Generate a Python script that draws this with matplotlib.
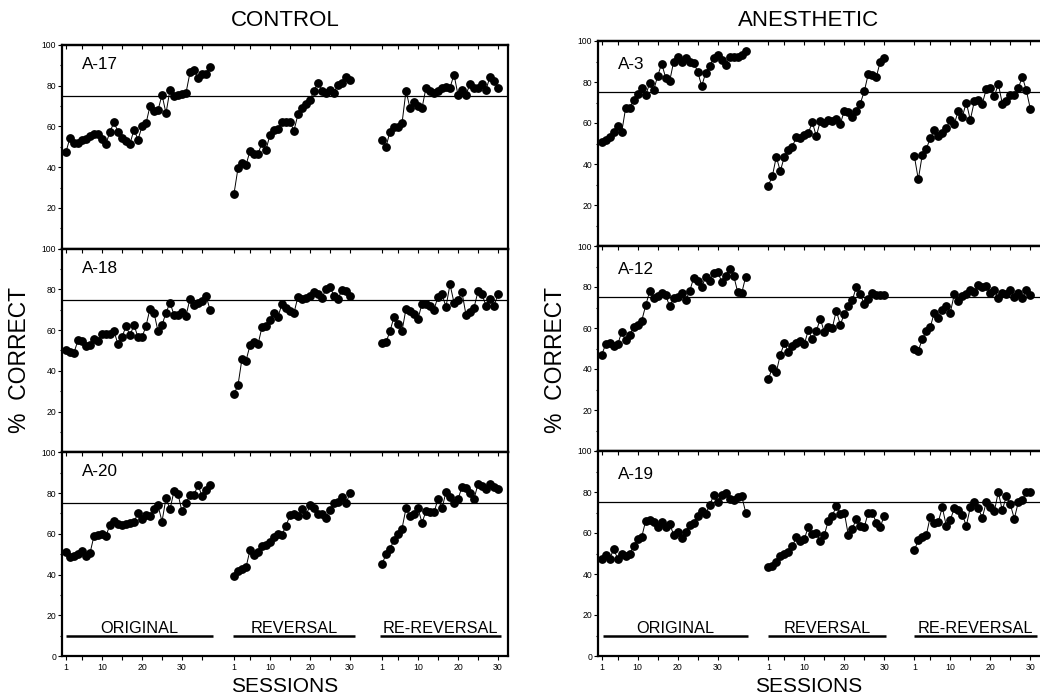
import matplotlib
matplotlib.use("Agg")
import matplotlib.pyplot as plt

plt.rcParams['font.family'] = ['Liberation Sans', 'DejaVu Sans']

# ---------------- data ----------------
group_titles = ["CONTROL", "ANESTHETIC"]
control_animals = ["A-17", "A-18", "A-20"]
anesthetic_animals = ["A-3", "A-12", "A-19"]
phase_names = ["ORIGINAL", "REVERSAL", "RE-REVERSAL"]
tick_sessions = [1, 5, 10, 15, 20, 25, 30, 35]
labelled_sessions = [1, 10, 20, 30]
criterion = 75

a17_original = [47.5, 54.5, 52, 52, 53.5, 54, 55.5, 56.5, 56.5, 54, 51.5, 57.5, 62, 57.5, 54.5, 53, 51.5,
                58.5, 53.5, 60, 61.5, 70, 67.5, 68, 75.5, 66.5, 78, 75, 75.5, 76, 76.5, 86.5, 87.5, 84,
                86, 86, 89]
a17_reversal = [27, 39.5, 42, 41, 48, 46.5, 46.5, 52, 48.5, 56, 58.5, 59, 62, 62, 62, 58, 66, 69, 71, 73,
                77.5, 81.5, 77.5, 76.5, 78, 76.5, 80.5, 81.5, 84.5, 83]
a17_rereversal = [53.5, 50, 57.5, 59.5, 59.5, 61.5, 77.5, 69, 72, 70, 69, 79, 77.5, 76.5, 77.5, 79, 79.5,
                  79, 85.5, 75.5, 78, 75.5, 81, 79, 79, 81, 78, 84.5, 82.5, 79]

a18_original = [50, 49.5, 49, 55, 54.5, 52, 52.5, 55.5, 54.5, 58, 58, 58, 59.5, 53, 56.5, 62, 57.5, 62.5,
                56.5, 56.5, 62, 70.5, 68.5, 59.5, 62.5, 68.5, 73.5, 67.5, 67.5, 69, 67, 75.5, 72.5, 73.5,
                74.5, 77, 70]
a18_reversal = [28.5, 33, 46, 45, 52.5, 54, 53, 61.5, 62, 65, 68.5, 66.5, 73, 71, 69.5, 68.5, 76.5, 75.5,
                76, 77, 78.5, 77.5, 76, 80, 81, 77, 75.5, 79.5, 79, 77]
a18_rereversal = [53.5, 54, 59.5, 66.5, 63, 59.5, 70.5, 69.5, 68, 65.5, 73, 73, 72, 70, 76.5, 77.5, 71.5,
                  82.5, 73.5, 75, 78.5, 67.5, 69, 71, 79, 77.5, 72, 75.5, 72, 77.5]

a20_original = [51, 48.5, 49, 50, 51.5, 49, 50.5, 59, 59.5, 60, 59, 64.5, 66.5, 65, 64.5, 65, 65.5, 66,
                70, 67.5, 69, 68.5, 72, 74, 66, 77.5, 72, 81, 79.5, 71, 75, 79, 79, 84, 78.5, 81.5, 84]
a20_reversal = [39.5, 41.5, 42.5, 43.5, 52, 49.5, 51, 54, 54.5, 56, 58.5, 60, 59.5, 64, 69, 69.5, 68.5,
                72, 69, 74, 72.5, 69.5, 69.5, 68, 71.5, 75, 75.5, 78, 75, 80]
a20_rereversal = [45, 50, 52.5, 57, 60, 62.5, 72.5, 68.5, 69.5, 72.5, 65.5, 71, 70.5, 70.5, 77, 72.5,
                  80.5, 78, 75, 77, 83, 82.5, 80, 77, 84.5, 83.5, 82, 84.5, 83, 82]

a3_original = [50.5, 51.5, 53, 55.5, 58.5, 55.5, 67.5, 67.5, 71, 74, 77, 73.5, 79.5, 76, 83, 89, 82, 80.5,
               90, 92, 90, 91.5, 90, 89.5, 85, 78, 84.5, 88, 91.5, 93, 90.5, 88.5, 92, 92, 92, 93, 95]
a3_reversal = [29.5, 34, 43.5, 36.5, 43.5, 47, 48.5, 53, 52.5, 54, 55, 60.5, 53.5, 61, 60, 61.5, 61, 62,
               59.5, 66, 65.5, 63, 66, 69.5, 75.5, 84, 83.5, 82.5, 90, 91.5]
a3_rereversal = [44, 32.5, 44.5, 47.5, 52.5, 56.5, 53.5, 55, 57.5, 61.5, 59.5, 66, 63, 70, 61.5, 70.5, 71,
                 69.5, 76.5, 77, 73, 79, 69.5, 70.5, 73.5, 73.5, 77, 82.5, 76, 67]

a12_original = [47, 52, 52.5, 51, 52, 58, 54, 56.5, 60.5, 61.5, 63.5, 71, 78, 74.5, 75.5, 77, 76, 70.5,
                74.5, 75, 77, 73.5, 78, 84.5, 83, 80, 85, 83, 87, 87.5, 82.5, 85.5, 89, 85.5, 77.5, 77, 85]
a12_reversal = [35, 40.5, 38.5, 47, 52.5, 48.5, 51, 52.5, 53.5, 52, 59, 54.5, 58.5, 64.5, 58, 60.5, 60,
                68.5, 61.5, 67, 70.5, 73.5, 80, 76.5, 71.5, 74, 77, 76, 76, 76]
a12_rereversal = [50, 49, 54.5, 58.5, 60.5, 67.5, 65, 69, 70.5, 67.5, 76.5, 73, 75.5, 76.5, 78.5, 77.5, 81,
                  80, 80.5, 77, 78.5, 74.5, 77, 76.5, 78.5, 75, 77, 74.5, 78.5, 76]

a19_original = [47.5, 49.5, 47.5, 52, 47.5, 50, 49, 50, 53.5, 57, 58, 66, 66.5, 65.5, 63, 65.5, 63, 64.5,
                59, 60.5, 57.5, 60.5, 64, 65, 68.5, 70.5, 69.5, 73.5, 78.5, 75, 78.5, 79.5, 76.5, 76,
                77.5, 78, 70]
a19_reversal = [43.5, 44, 46, 49, 50, 50.5, 53.5, 58, 56, 57, 63, 59.5, 60, 56, 59, 66, 68.5, 73, 69.5,
                70, 59, 62, 67, 63.5, 63, 70, 70, 65, 63, 68.5]
a19_rereversal = [51.5, 56.5, 58, 59, 68, 65, 65.5, 72.5, 63.5, 66.5, 72, 71, 69, 63.5, 72.5, 75, 72,
                  67.5, 75, 72.5, 70.5, 80, 71, 78, 74, 67, 75, 76, 80, 80]

control_data = [
    [a17_original, a17_reversal, a17_rereversal],
    [a18_original, a18_reversal, a18_rereversal],
    [a20_original, a20_reversal, a20_rereversal],
]
anesthetic_data = [
    [a3_original, a3_reversal, a3_rereversal],
    [a12_original, a12_reversal, a12_rereversal],
    [a19_original, a19_reversal, a19_rereversal],
]

# ---------------- layout ----------------
W, H = 1040, 697
fig = plt.figure(figsize=(W / 100, H / 100), dpi=100)

columns = [
    dict(title=group_titles[0], animals=control_animals, data=control_data,
         left=62, width=446, top=45, bottom=656, xlim=(0, 111.5),
         offsets=(0, 42, 79), label_drop=24, title_x=285,
         bars=[(1, 37.8), (0.8, 31.3), (0.6, 30.8)]),
    dict(title=group_titles[1], animals=anesthetic_animals, data=anesthetic_data,
         left=598, width=446, top=41, bottom=656, xlim=(0.075, 111.575),
         offsets=(0, 41.65, 78.15), label_drop=28, title_x=809,
         bars=[(1.25, 37.65), (1.0, 30.5), (1.0, 31.6)]),
]

SPINE_W = 1.6
for col in columns:
    ph = (col['bottom'] - col['top']) / 3.0
    for i in range(3):
        top = col['top'] + i * ph
        rect = [col['left'] / W, 1 - (top + ph) / H, col['width'] / W, ph / H]
        ax = fig.add_axes(rect)
        ax.set_xlim(*col['xlim'])
        ax.set_ylim(0, 100)
        for sp in ax.spines.values():
            sp.set_linewidth(SPINE_W)

        ax.axhline(criterion, color='black', lw=0.9, zorder=1)

        for phase_idx, series in enumerate(col['data'][i]):
            off = col['offsets'][phase_idx]
            xs = [off + s for s in range(1, len(series) + 1)]
            ax.plot(xs, series, '-o', color='black', lw=0.7, ms=5.3,
                    mfc='black', mec='black', zorder=3, clip_on=False)

        # x ticks
        pos, labs = [], []
        for phase_idx, off in enumerate(col['offsets']):
            for s in tick_sessions:
                if phase_idx > 0 and s > 30:
                    continue
                pos.append(off + s)
                labs.append(str(s) if s in labelled_sessions else "")
        ax.set_xticks(pos)
        if i == 2:
            ax.set_xticklabels(labs, fontsize=6.3)
            ax.tick_params(axis='x', direction='out', length=3, width=0.8, pad=2)
        else:
            ax.tick_params(axis='x', bottom=False, labelbottom=False)
        sec = ax.secondary_xaxis('top')
        sec.set_xticks(pos)
        sec.set_xticklabels([])
        sec.tick_params(direction='in', length=3, width=0.8)
        sec.spines['top'].set_linewidth(SPINE_W)

        # y ticks
        ax.set_yticks([0, 20, 40, 60, 80, 100])
        if i == 2:
            ax.set_yticklabels(["0", "20", "40", "60", "80", "100"], fontsize=6.2)
        else:
            ax.set_yticklabels(["", "20", "40", "60", "80", "100"], fontsize=6.2)
        ax.set_yticks([10, 30, 50, 70, 90], minor=True)
        ax.tick_params(axis='y', which='major', direction='out', length=3.2, width=0.8, pad=1)
        ax.tick_params(axis='y', which='minor', direction='out', length=1.6, width=0.8)

        # animal label
        ax.text(0.045, 1 - col['label_drop'] / ph, col['animals'][i], transform=ax.transAxes,
                fontsize=12.3, ha='left', va='baseline')

        # phase bars in bottom panel
        if i == 2:
            for phase_idx, (b0, b1) in enumerate(col['bars']):
                off = col['offsets'][phase_idx]
                ax.plot([off + b0, off + b1], [10, 10], color='black', lw=1.8,
                        solid_capstyle='butt', zorder=2)
                ax.text(off + (b0 + b1) / 2, 11.3, phase_names[phase_idx], ha='center',
                        va='baseline', fontsize=11.7)

    # column title and axis labels
    fig.text(col['title_x'] / W, 1 - 20 / H, col['title'], ha='center', va='center', fontsize=16)
    fig.text(col['title_x'] / W, 1 - 686 / H, "SESSIONS", ha='center', va='center', fontsize=15)
    fig.text((col['left'] - 42) / W, 1 - 360 / H, "%  CORRECT", ha='center', va='center',
             rotation=90, fontsize=16.5)

fig.savefig("out.png", dpi=100)
